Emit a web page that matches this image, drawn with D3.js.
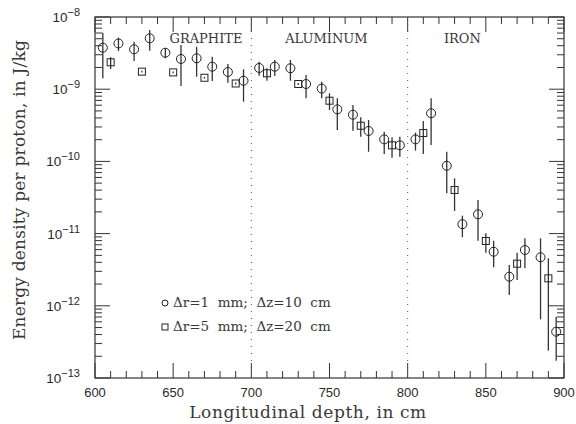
<!DOCTYPE html>
<html>
<head>
<meta charset="utf-8">
<script src="https://cdn.jsdelivr.net/npm/d3@7"></script>
<style>
  body { margin: 0; background: #fff; }
  text { fill: #2a2a2a; }
  .serif { font-family: "DejaVu Serif", serif; fill: #383838; }
  .sans { font-family: "Liberation Sans", Arial, sans-serif; }
</style>
</head>
<body>
<div id="chart"></div>
<script>
// circles: dr = 1 mm, dz = 10 cm
const circleDepth = [605, 615, 625, 635, 645, 655, 665, 675, 685, 695,
                     705, 715, 725, 735, 745, 755, 765, 775, 785, 795,
                     805, 815, 825, 835, 845, 855, 865, 875, 885, 895];
const circleValue = [3.76e-9, 4.3e-9, 3.57e-9, 5.07e-9, 3.2e-9, 2.62e-9, 2.68e-9, 2.05e-9, 1.73e-9, 1.31e-9,
                     1.97e-9, 2.05e-9, 1.95e-9, 1.18e-9, 1.02e-9, 5.26e-10, 4.43e-10, 2.64e-10, 2.02e-10, 1.67e-10,
                     2.02e-10, 4.64e-10, 8.7e-11, 1.35e-11, 1.85e-11, 5.61e-12, 2.53e-12, 5.93e-12, 4.7e-12, 4.38e-13];
const circleLow   = [1.42e-9, 3.38e-9, 2.46e-9, 3.41e-9, 2.68e-9, 1.11e-9, 1.49e-9, 1.3e-9, 1.23e-9, 6.71e-10,
                     1.54e-9, 1.52e-9, 1.31e-9, 7.48e-10, 7.48e-10, 2.72e-10, 2.66e-10, 1.36e-10, 1.27e-10, 1.16e-10,
                     1.41e-10, 1.69e-10, 3.61e-11, 8.89e-12, 7.98e-12, 3.41e-12, 1.41e-12, 3.31e-12, 6.5e-13, 1.74e-13];
const circleHigh  = [6.06e-9, 5.17e-9, 4.55e-9, 6.6e-9, 3.69e-9, 4.1e-9, 3.88e-9, 2.82e-9, 2.23e-9, 1.89e-9,
                     2.4e-9, 2.54e-9, 2.54e-9, 1.57e-9, 1.27e-9, 7.48e-10, 6.04e-10, 3.74e-10, 2.58e-10, 2.2e-10,
                     2.5e-10, 7.48e-10, 1.36e-10, 1.77e-11, 2.92e-11, 7.98e-12, 3.67e-12, 8.6e-12, 8.6e-12, 7.06e-13];

// squares: dr = 5 mm, dz = 20 cm
const squareDepth = [610, 630, 650, 670, 690, 710, 730, 750, 770, 790, 810, 830, 850, 870, 890];
const squareValue = [2.36e-9, 1.75e-9, 1.71e-9, 1.44e-9, 1.2e-9, 1.66e-9, 1.18e-9, 6.93e-10, 3.12e-10, 1.67e-10,
                     2.47e-10, 4.02e-11, 7.9e-12, 3.83e-12, 2.4e-12];
const squareLow   = [1.9e-9, 1.7e-9, 1.66e-9, 1.4e-9, 1.16e-9, 1.31e-9, 1.14e-9, 5.15e-10, 2.2e-10, 1.12e-10,
                     1.27e-10, 2.06e-11, 5.43e-12, 2.28e-12, 2.39e-13];
const squareHigh  = [2.77e-9, 1.8e-9, 1.76e-9, 1.48e-9, 1.24e-9, 1.95e-9, 1.22e-9, 8.77e-10, 4.08e-10, 2.16e-10,
                     3.63e-10, 5.83e-11, 1.01e-11, 5.43e-12, 4.55e-12];

const xTicks = [600, 650, 700, 750, 800, 850, 900];
const yExponents = [-8, -9, -10, -11, -12, -13];
const boundaries = [700, 800];
const materials = ["GRAPHITE", "ALUMINUM", "IRON"];
const materialDepth = [671, 748, 835];
const legendLabels = ["\u0394r=1  mm;  \u0394z=10  cm", "\u0394r=5  mm;  \u0394z=20  cm"];

const W = 576, H = 424;
const margin = { top: 17, right: 12, bottom: 46, left: 95 };
const width = W - margin.left - margin.right;
const height = H - margin.top - margin.bottom;

const svg = d3.select("#chart").append("svg")
    .attr("width", W)
    .attr("height", H);

const g = svg.append("g")
    .attr("transform", "translate(" + margin.left + "," + margin.top + ")");

const x = d3.scaleLinear().domain([600, 900]).range([0, width]);
const y = d3.scaleLog().domain([1e-13, 1e-8]).range([height, 0]);

// minor ticks every 10 cm, log minor ticks 2..9
const xMinor = d3.range(600, 901, 10);
const yMinor = [];
for (let e = -13; e < -8; e++) {
    for (let m = 2; m <= 9; m++) yMinor.push(m * Math.pow(10, e));
}
const isMajorX = v => v % 50 === 0;

const tickColor = "#333";
// bottom & top ticks
[[height, -1], [0, 1]].forEach(([y0, dir]) => {
    g.selectAll(null).data(xMinor).enter().append("line")
        .attr("x1", d => x(d)).attr("x2", d => x(d))
        .attr("y1", y0).attr("y2", d => y0 + dir * (isMajorX(d) ? 15 : 7))
        .attr("stroke", tickColor).attr("stroke-width", 1);
});
// left & right ticks
[[0, 1], [width, -1]].forEach(([x0, dir]) => {
    g.selectAll(null).data(yMinor).enter().append("line")
        .attr("y1", d => y(d)).attr("y2", d => y(d))
        .attr("x1", x0).attr("x2", x0 + dir * 7)
        .attr("stroke", tickColor).attr("stroke-width", 1);
    g.selectAll(null).data(yExponents).enter().append("line")
        .attr("y1", d => y(Math.pow(10, d))).attr("y2", d => y(Math.pow(10, d)))
        .attr("x1", x0).attr("x2", x0 + dir * 15)
        .attr("stroke", tickColor).attr("stroke-width", 1);
});

// frame
g.append("rect")
    .attr("width", width).attr("height", height)
    .attr("fill", "none").attr("stroke", tickColor).attr("stroke-width", 1.2);

// material boundaries
g.selectAll(".boundary").data(boundaries).enter().append("line")
    .attr("class", "boundary")
    .attr("x1", d => x(d)).attr("x2", d => x(d))
    .attr("y1", 0).attr("y2", height)
    .attr("stroke", "#555").attr("stroke-width", 1)
    .attr("stroke-dasharray", "1,6");

g.selectAll(".material").data(materials).enter().append("text")
    .attr("class", "material serif")
    .attr("x", (d, i) => x(materialDepth[i]))
    .attr("y", 26)
    .attr("text-anchor", "middle")
    .style("font-size", "13px")
    .text(d => d);

// x tick labels
g.selectAll(".xlab").data(xTicks).enter().append("text")
    .attr("class", "xlab sans")
    .attr("x", d => x(d))
    .attr("y", height + 19)
    .attr("text-anchor", "middle")
    .style("font-size", "13px")
    .text(d => d);

// y tick labels 10^n
const ylab = g.selectAll(".ylab").data(yExponents).enter().append("text")
    .attr("class", "ylab sans")
    .attr("x", -15)
    .attr("y", d => y(Math.pow(10, d)) + 5)
    .attr("text-anchor", "end")
    .style("font-size", "13.5px");
ylab.append("tspan").text("10");
ylab.append("tspan")
    .attr("dy", -6)
    .style("font-size", "11px")
    .text(d => "\u2212" + Math.abs(d));

// axis titles
svg.append("text")
    .attr("class", "serif")
    .attr("x", 308)
    .attr("y", 418)
    .attr("text-anchor", "middle")
    .style("font-size", "17px")
    .style("letter-spacing", "0.6px")
    .text("Longitudinal depth, in cm");

svg.append("text")
    .attr("class", "serif")
    .attr("transform", "translate(25,190) rotate(-90)")
    .attr("text-anchor", "middle")
    .style("font-size", "17px")
    .style("letter-spacing", "0.2px")
    .text("Energy density per proton, in J/kg");

// error bars
const barColor = "#333";
function drawBars(depth, low, high, cls) {
    g.selectAll("." + cls).data(depth).enter().append("line")
        .attr("class", cls)
        .attr("x1", d => x(d)).attr("x2", d => x(d))
        .attr("y1", (d, i) => y(low[i])).attr("y2", (d, i) => y(high[i]))
        .attr("stroke", barColor).attr("stroke-width", 1.3);
}
drawBars(circleDepth, circleLow, circleHigh, "cbar");
drawBars(squareDepth, squareLow, squareHigh, "sbar");

g.selectAll(".circ").data(circleDepth).enter().append("circle")
    .attr("class", "circ")
    .attr("cx", d => x(d))
    .attr("cy", (d, i) => y(circleValue[i]))
    .attr("r", 4.5)
    .attr("fill", "none").attr("stroke", "#222").attr("stroke-width", 1);

const s = 7;
g.selectAll(".sq").data(squareDepth).enter().append("rect")
    .attr("class", "sq")
    .attr("x", d => x(d) - s / 2)
    .attr("y", (d, i) => y(squareValue[i]) - s / 2)
    .attr("width", s).attr("height", s)
    .attr("fill", "none").attr("stroke", "#222").attr("stroke-width", 1);

// legend
const legend = g.append("g").attr("transform", "translate(70,286)");
legend.append("circle").attr("cx", 0).attr("cy", 0).attr("r", 3)
    .attr("fill", "none").attr("stroke", "#222");
legend.append("rect").attr("x", -3).attr("y", 21).attr("width", 6).attr("height", 6)
    .attr("fill", "none").attr("stroke", "#222");
legend.selectAll(".leg").data(legendLabels).enter().append("text")
    .attr("class", "leg serif")
    .attr("x", 8)
    .attr("y", (d, i) => 4 + i * 24)
    .style("font-size", "13.5px")
    .style("white-space", "pre")
    .text(d => d);
</script>
</body>
</html>
